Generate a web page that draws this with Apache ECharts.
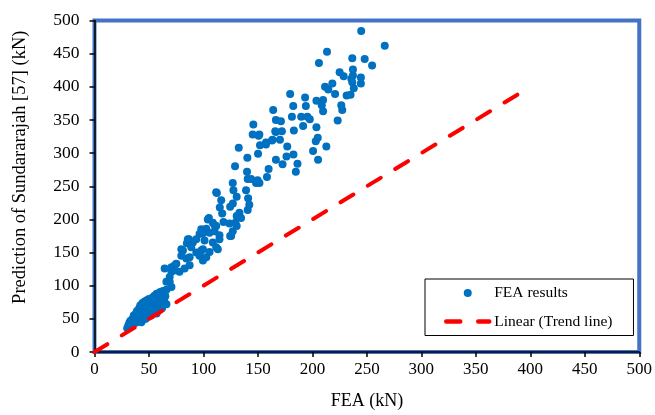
<!DOCTYPE html>
<html>
<head>
<meta charset="utf-8">
<script src="https://cdn.jsdelivr.net/npm/echarts@6/dist/echarts.min.js"></script>
<style>html,body{margin:0;padding:0;background:#fff;}#c{width:655px;height:415px;}</style>
</head>
<body>
<div id="c"></div>
<script>
// FEA (kN) values
const feaX = [
244.8,266.4,213.4,206,236.6,248,254.8,225,237.2,228.7,235.7,244.5,244.5,238,218.3,211.6,214.6,220.8,231.4,235,237.2,236.6,
179.6,193.3,182.4,194,203.7,209.8,208.6,209.8,226.5,227.4,223.2,164,181.2,189.7,195.4,197.6,166.5,171.1,191.5,203.7,
145.8,145.2,150.6,166.5,172,183,162.9,170.2,157.4,151.9,132.4,176.9,203.1,204.9,212.8,150.1,140.3,166.5,176.2,182.6,
186.3,172.6,200.6,205.2,184.8,129,140,159.8,158.3,126.9,127.5,111.7,143.7,148.3,151.4,165.9,151.3,157.4,163.4,
130.5,139.1,141,116.3,115,124.5,142.1,140.6,133,130.5,117.2,105,134.5,118.4,123.9,129.3,130.5,110.2,102.6,98,105.6,99.5,
110.2,126.9,125.4,114.7,96.4,93.4,101,108.6,111.7,113.2,124.5,86.7,84.8,79.7,88.8,99.5,105.6,112.3,127,140.6,149.7,
96.4,99.5,102.6,98,81.2,84.3,90.3,85.7,79.7,87.3,93.4,75.1,70.6,64.4,73.6,78,82.7,87.3,72.7,70.6,69,66,70.6,69,61.4,
104,108.6,111.7,114.7,
30,31,32,32,33,33,34,34,35,35,36,36,37,37,38,38,38,39,39,40,40,40,41,41,42,42,42,43,43,44,44,44,45,45,45,46,46,47,47,47,
48,48,48,49,49,49,50,50,50,51,51,52,52,53,53,54,54,55,55,56,56,57,57,58,58,59,60,60,61,62,63,63,64,65,66,43,46,52,55,58,
61,64,57,62,66
];
// Prediction of Sundararajah [57] (kN) values
const predY = [
484,462,453,436,443,442,432,422,426,416,412,414,405,398,405,400,396,389,387,388,417,407,
389,384,371,371,379,380,372,363,372,365,349,365,355,355,355,351,350,348,341,339,
343,328,326,332,333,334,319,320,313,312,308,310,318,323,310,299,293,290,295,298,
284,283,303,290,272,280,272,276,264,255,244,241,261,255,255,333,328,316,320,
234,244,232,229,218,219,222,214,210,205,209,202,202,196,194,195,190,191,186,185,180,179,
182,182,175,176,178,170,168,165,158,155,175,170,164,155,158,155,151,240,224,261,259,
145,138,143,153,153,141,165,170,145,143,150,133,128,126,131,121,126,131,123,121,113,106,98,106,91,
200,195,190,170,
36,40,38,44,42,47,40,45,50,43,48,55,45,52,50,58,44,55,62,48,53,60,66,50,56,63,70,52,60,67,74,48,55,62,70,76,58,50,65,72,
60,68,78,55,63,74,58,66,80,70,62,76,60,68,82,64,74,70,85,78,66,72,88,80,70,76,84,90,78,86,92,80,88,84,94,45,50,55,60,64,
70,76,58,66,72
];
// Linear (Trend line) endpoints
const trendX = [0, 400];
const trendY = [0, 400];
// axis ticks
const xTicks = [0,50,100,150,200,250,300,350,400,450,500];
const yTicks = [0,50,100,150,200,250,300,350,400,450,500];

const scatterData = feaX.map((x, i) => [x, predY[i]]);
const trendData = trendX.map((x, i) => [x, trendY[i]]);

const FONT = '"Liberation Serif", "Times New Roman", serif';
const chart = echarts.init(document.getElementById('c'), null, {renderer: 'canvas'});
chart.setOption({
  animation: false,
  backgroundColor: '#fff',
  grid: {
    left: 94.5, top: 20.5, right: 14.5, bottom: 56.7,
    show: true, borderColor: '#4472C4', borderWidth: 4, backgroundColor: 'transparent',
    containLabel: false
  },
  xAxis: {
    type: 'value', min: xTicks[0], max: xTicks[xTicks.length - 1], interval: 50,
    name: 'FEA (kN)', nameLocation: 'middle', nameGap: 40,
    nameTextStyle: {fontFamily: FONT, fontSize: 18, color: '#000'},
    axisLine: {show: true, lineStyle: {color: '#000', width: 1.5}},
    axisTick: {show: true, length: 5, lineStyle: {color: '#000', width: 1.5}},
    axisLabel: {fontFamily: FONT, fontSize: 17, color: '#000', margin: 9},
    splitLine: {show: false}
  },
  yAxis: {
    type: 'value', min: yTicks[0], max: yTicks[yTicks.length - 1], interval: 50,
    name: 'Prediction of Sundararajah [57] (kN)', nameLocation: 'middle', nameGap: 65,
    nameTextStyle: {fontFamily: FONT, fontSize: 18.5, color: '#000', padding: [0, 0, 0, 38]},
    axisLine: {show: true, lineStyle: {color: '#000', width: 1.5}},
    axisTick: {show: true, length: 5, lineStyle: {color: '#000', width: 1.5}},
    axisLabel: {fontFamily: FONT, fontSize: 17.5, color: '#000', margin: 15},
    splitLine: {show: false}
  },
  legend: {
    orient: 'vertical',
    left: 425, top: 279,
    backgroundColor: '#fff',
    borderColor: '#000', borderWidth: 1,
    padding: [6, 21, 6, 19],
    itemWidth: 43, itemHeight: 8, itemGap: 12.5,
    textStyle: {fontFamily: FONT, fontSize: 15.5, color: '#000'},
    lineStyle: {width: 4.5, cap: 'round'},
    data: [
      {name: 'FEA results', icon: 'circle'},
      {name: 'Linear (Trend line)', itemStyle: {opacity: 0}, lineStyle: {width: 4.5, type: [14, 18], cap: 'round'}}
    ]
  },
  series: [
    {
      name: 'FEA results', type: 'scatter', data: scatterData,
      symbol: 'circle', symbolSize: 8,
      itemStyle: {color: '#0070C0', opacity: 1}
    },
    {
      name: 'Linear (Trend line)', type: 'line', data: trendData,
      symbol: 'none', showSymbol: false,
      lineStyle: {color: '#FF0000', width: 4, type: [15, 17], cap: 'round'},
      itemStyle: {color: '#FF0000'},
      z: 3
    }
  ]
});
</script>
</body>
</html>
